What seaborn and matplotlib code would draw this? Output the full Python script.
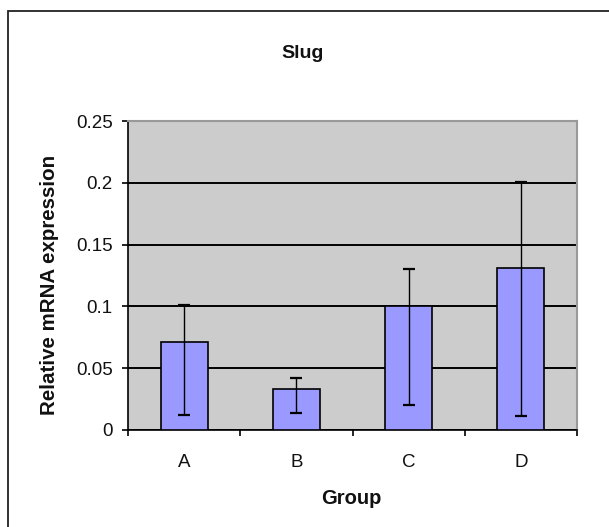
import matplotlib
matplotlib.use("Agg")
import matplotlib.pyplot as plt
import seaborn as sns
import pandas as pd
from matplotlib.patches import Rectangle
from matplotlib.ticker import FixedLocator, NullFormatter

# ---- data ----
groups = ["A", "B", "C", "D"]
expression = [0.071, 0.033, 0.100, 0.131]
err_low = [0.012, 0.014, 0.020, 0.011]    # lower end of error bar
err_high = [0.101, 0.042, 0.130, 0.201]   # upper end of error bar
yticks = [0, 0.05, 0.1, 0.15, 0.2, 0.25]
ytick_labels = ["0", "0.05", "0.1", "0.15", "0.2", "0.25"]
title = "Slug"
xlabel = "Group"
ylabel = "Relative mRNA expression"

sns.set_theme(style="white")
plt.rcParams["font.family"] = ["Liberation Sans", "DejaVu Sans"]

W, H = 609, 527
fig = plt.figure(figsize=(W / 100, H / 100), dpi=100)
ax = fig.add_axes([128 / W, 1 - 430 / H, (577 - 128) / W, (430 - 121) / H])
ax.set_facecolor("#CCCCCC")

df = pd.DataFrame({"group": groups, "value": expression})
sns.barplot(data=df, x="group", y="value", color="#9999FF", saturation=1,
            width=0.42, edgecolor="black", linewidth=1.2, ax=ax, zorder=3)

xpos = list(range(len(groups)))
yerr = [[v - lo for v, lo in zip(expression, err_low)],
        [hi - v for v, hi in zip(expression, err_high)]]
ax.errorbar(xpos, expression, yerr=yerr, fmt="none", ecolor="black",
            elinewidth=1.0, capsize=4.5, capthick=1.6, zorder=4)

ax.set_ylim(0, 0.25)
ax.set_xlim(-0.5, len(groups) - 0.5)
ax.set_yticks(yticks)
ax.set_yticklabels(ytick_labels)
ax.yaxis.grid(True, color="black", linewidth=1.4, zorder=1)
ax.set_axisbelow(True)

# x ticks at category boundaries, labels at centres
ax.xaxis.set_major_locator(FixedLocator([i - 0.5 for i in range(len(groups) + 1)]))
ax.xaxis.set_major_formatter(NullFormatter())
ax.xaxis.set_minor_locator(FixedLocator(xpos))
ax.set_xticklabels(groups, minor=True)
ax.tick_params(axis="x", which="major", length=4, width=1.2, color="black",
               direction="out", bottom=True)
ax.tick_params(axis="x", which="minor", length=0, pad=17, labelsize=13.5,
               labelcolor="#111111")
ax.tick_params(axis="y", length=4, width=1.2, color="black", direction="out",
               left=True, pad=7, labelsize=13.5, labelcolor="#111111")

for side in ["left", "bottom"]:
    ax.spines[side].set_color("black")
    ax.spines[side].set_linewidth(1.2)
for side in ["top", "right"]:
    ax.spines[side].set_visible(True)
    ax.spines[side].set_color("#999999")
    ax.spines[side].set_linewidth(1.5)

ax.set_xlabel("")
ax.set_ylabel("")

fig.text(303 / W, 1 - 53 / H, title, ha="center", va="center",
         fontsize=14, fontweight="bold", color="#111111")
fig.text(351 / W, 1 - 498 / H, xlabel, ha="center", va="center",
         fontsize=14.5, fontweight="bold", color="#111111")
fig.text(50 / W, 1 - 285 / H, ylabel, ha="center", va="center",
         rotation=90, fontsize=14.8, fontweight="bold", color="#111111")

# outer chart border (runs off the right and bottom edges)
fig.add_artist(Rectangle((8 / W, -0.1), 1.2, 1 - 10.5 / H + 0.1,
                         transform=fig.transFigure, fill=False,
                         edgecolor="#222222", linewidth=1.3))

fig.savefig("out.png", dpi=100)
